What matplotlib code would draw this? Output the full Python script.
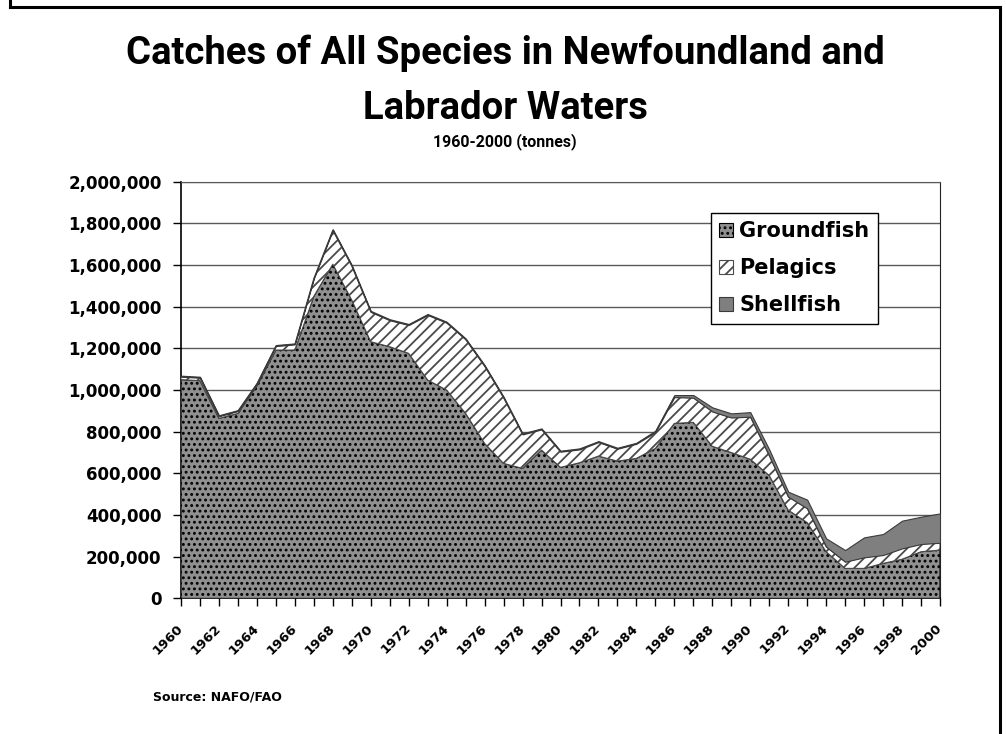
import matplotlib
matplotlib.use('Agg')
import matplotlib.pyplot as plt
from matplotlib import font_manager
from matplotlib.patches import Patch
from matplotlib.lines import Line2D
from matplotlib.transforms import ScaledTranslation

# catches in tonnes
years = list(range(1960, 2001))
groundfish = [1050000, 1045000, 864000, 888000, 1020000, 1192000, 1192000, 1450000, 1604000, 1432000,
              1232000, 1208000, 1176000, 1048000, 1000000, 888000, 744000, 648000, 624000, 712000,
              629000, 651000, 683000, 659000, 672000, 720000, 840000, 845000, 730000, 700000,
              668000, 590000, 424000, 364000, 224000, 144000, 144000, 168000, 188000, 224000, 232000]
pelagics = [14000, 14000, 10000, 11000, 10000, 19000, 27000, 85000, 163000, 163000,
            143000, 127000, 136000, 312000, 323000, 355000, 371000, 315000, 163000, 99000,
            75000, 64000, 67000, 59000, 70000, 78000, 126000, 118000, 167000, 168000,
            204000, 95000, 64000, 68000, 24000, 32000, 53000, 40000, 52000, 37000, 35000]
shellfish = [5000, 5000, 5000, 5000, 5000, 5000, 5000, 5000, 5000, 5000,
             5000, 5000, 5000, 5000, 5000, 5000, 5000, 5000, 5000, 5000,
             5000, 5000, 5000, 5000, 5000, 7000, 10000, 13000, 20000, 20000,
             22000, 30000, 24000, 42000, 40000, 56000, 96000, 101000, 133000, 131000, 141000]
series_names = ['Groundfish', 'Pelagics', 'Shellfish']
year_labels = [str(y) if y % 2 == 0 else '' for y in years]
y_ticks = list(range(0, 2000001, 200000))

# narrowish bold face for the titles
installed = {f.name for f in font_manager.fontManager.ttflist}
if 'Roboto' in installed:
    title_font, tscale = 'Roboto', 1.0
else:
    title_font, tscale = 'DejaVu Sans', 0.78

plt.rcParams['font.family'] = 'DejaVu Sans'
plt.rcParams['hatch.linewidth'] = 1.3

W, H = 1006, 734
fig = plt.figure(figsize=(W / 100, H / 100), dpi=100)
ax = fig.add_axes([181 / W, 1 - 598.4 / H, (940 - 181) / W, (598.4 - 181.7) / H])

p_top = [g + p for g, p in zip(groundfish, pelagics)]
s_top = [a + s for a, s in zip(p_top, shellfish)]

ax.fill_between(years, 0, groundfish, facecolor='#909090', edgecolor='black',
                hatch='...', linewidth=0.8, zorder=3)
ax.fill_between(years, groundfish, p_top, facecolor='white', edgecolor='#4a4a4a',
                hatch='///', linewidth=0.8, zorder=3)
ax.fill_between(years, p_top, s_top, facecolor='#7f7f7f', edgecolor='#3a3a3a',
                linewidth=0.8, zorder=3)

ax.set_xlim(1960, 2000)
ax.set_ylim(0, 2000000)
ax.set_yticks(y_ticks)
ax.set_yticklabels([f'{v:,}' for v in y_ticks], fontsize=12, fontweight='bold')
ax.set_xticks(years)
ax.set_xticklabels(year_labels, rotation=45, ha='right', va='center',
                   rotation_mode='anchor', fontsize=9.5, fontweight='bold')
shift = ScaledTranslation(-0.14, 0, fig.dpi_scale_trans)
for lab in ax.get_xticklabels():
    lab.set_transform(lab.get_transform() + shift)
ax.tick_params(axis='y', length=6, width=1, pad=8, direction='out')
ax.tick_params(axis='x', length=6, width=1, pad=14, direction='out')

ax.yaxis.grid(True, color='#5a5a5a', linewidth=1.0)
ax.set_axisbelow(True)
ax.spines['left'].set_linewidth(1.2)
ax.spines['bottom'].set_linewidth(1.2)
ax.spines['top'].set_color('#5a5a5a')
ax.spines['right'].set_color('#222222')

handles = [Patch(facecolor='#909090', edgecolor='black', hatch='...', linewidth=0.8),
           Patch(facecolor='white', edgecolor='#4a4a4a', hatch='///', linewidth=0.8),
           Patch(facecolor='#7f7f7f', edgecolor='#3a3a3a', linewidth=0.8)]
leg = fig.legend(handles, series_names, loc='upper left', bbox_to_anchor=(711 / W, 1 - 212.7 / H),
                 prop={'size': 15, 'weight': 'bold'}, frameon=True, fancybox=False,
                 framealpha=1, edgecolor='black', handlelength=0.65, handleheight=0.65,
                 handletextpad=0.3, labelspacing=0.82, borderpad=0.4, borderaxespad=0)
leg.get_frame().set_linewidth(1.0)

fig.text(0.502, 1 - 64 / H, 'Catches of All Species in Newfoundland and', ha='center',
         va='baseline', fontsize=27.5 * tscale, fontweight='bold', family=title_font)
fig.text(0.502, 1 - 119 / H, 'Labrador Waters', ha='center', va='baseline',
         fontsize=27.5 * tscale, fontweight='bold', family=title_font)
fig.text(0.502, 1 - 146 / H, '1960-2000 (tonnes)', ha='center', va='baseline',
         fontsize=11.5 * tscale, fontweight='bold', family=title_font)
fig.text(153 / W, 1 - 697 / H, 'Source: NAFO/FAO', ha='left', va='center',
         fontsize=9, fontweight='bold')

# frame round the slide
for xs, ys in [([9.5, 9.5], [0, 7]), ([9.5, 1000], [7, 7]), ([1000, 1000], [7, 734])]:
    fig.add_artist(Line2D([x / W for x in xs], [1 - y / H for y in ys], color='black',
                          linewidth=2.2, transform=fig.transFigure))

fig.savefig('out.png', dpi=100)
